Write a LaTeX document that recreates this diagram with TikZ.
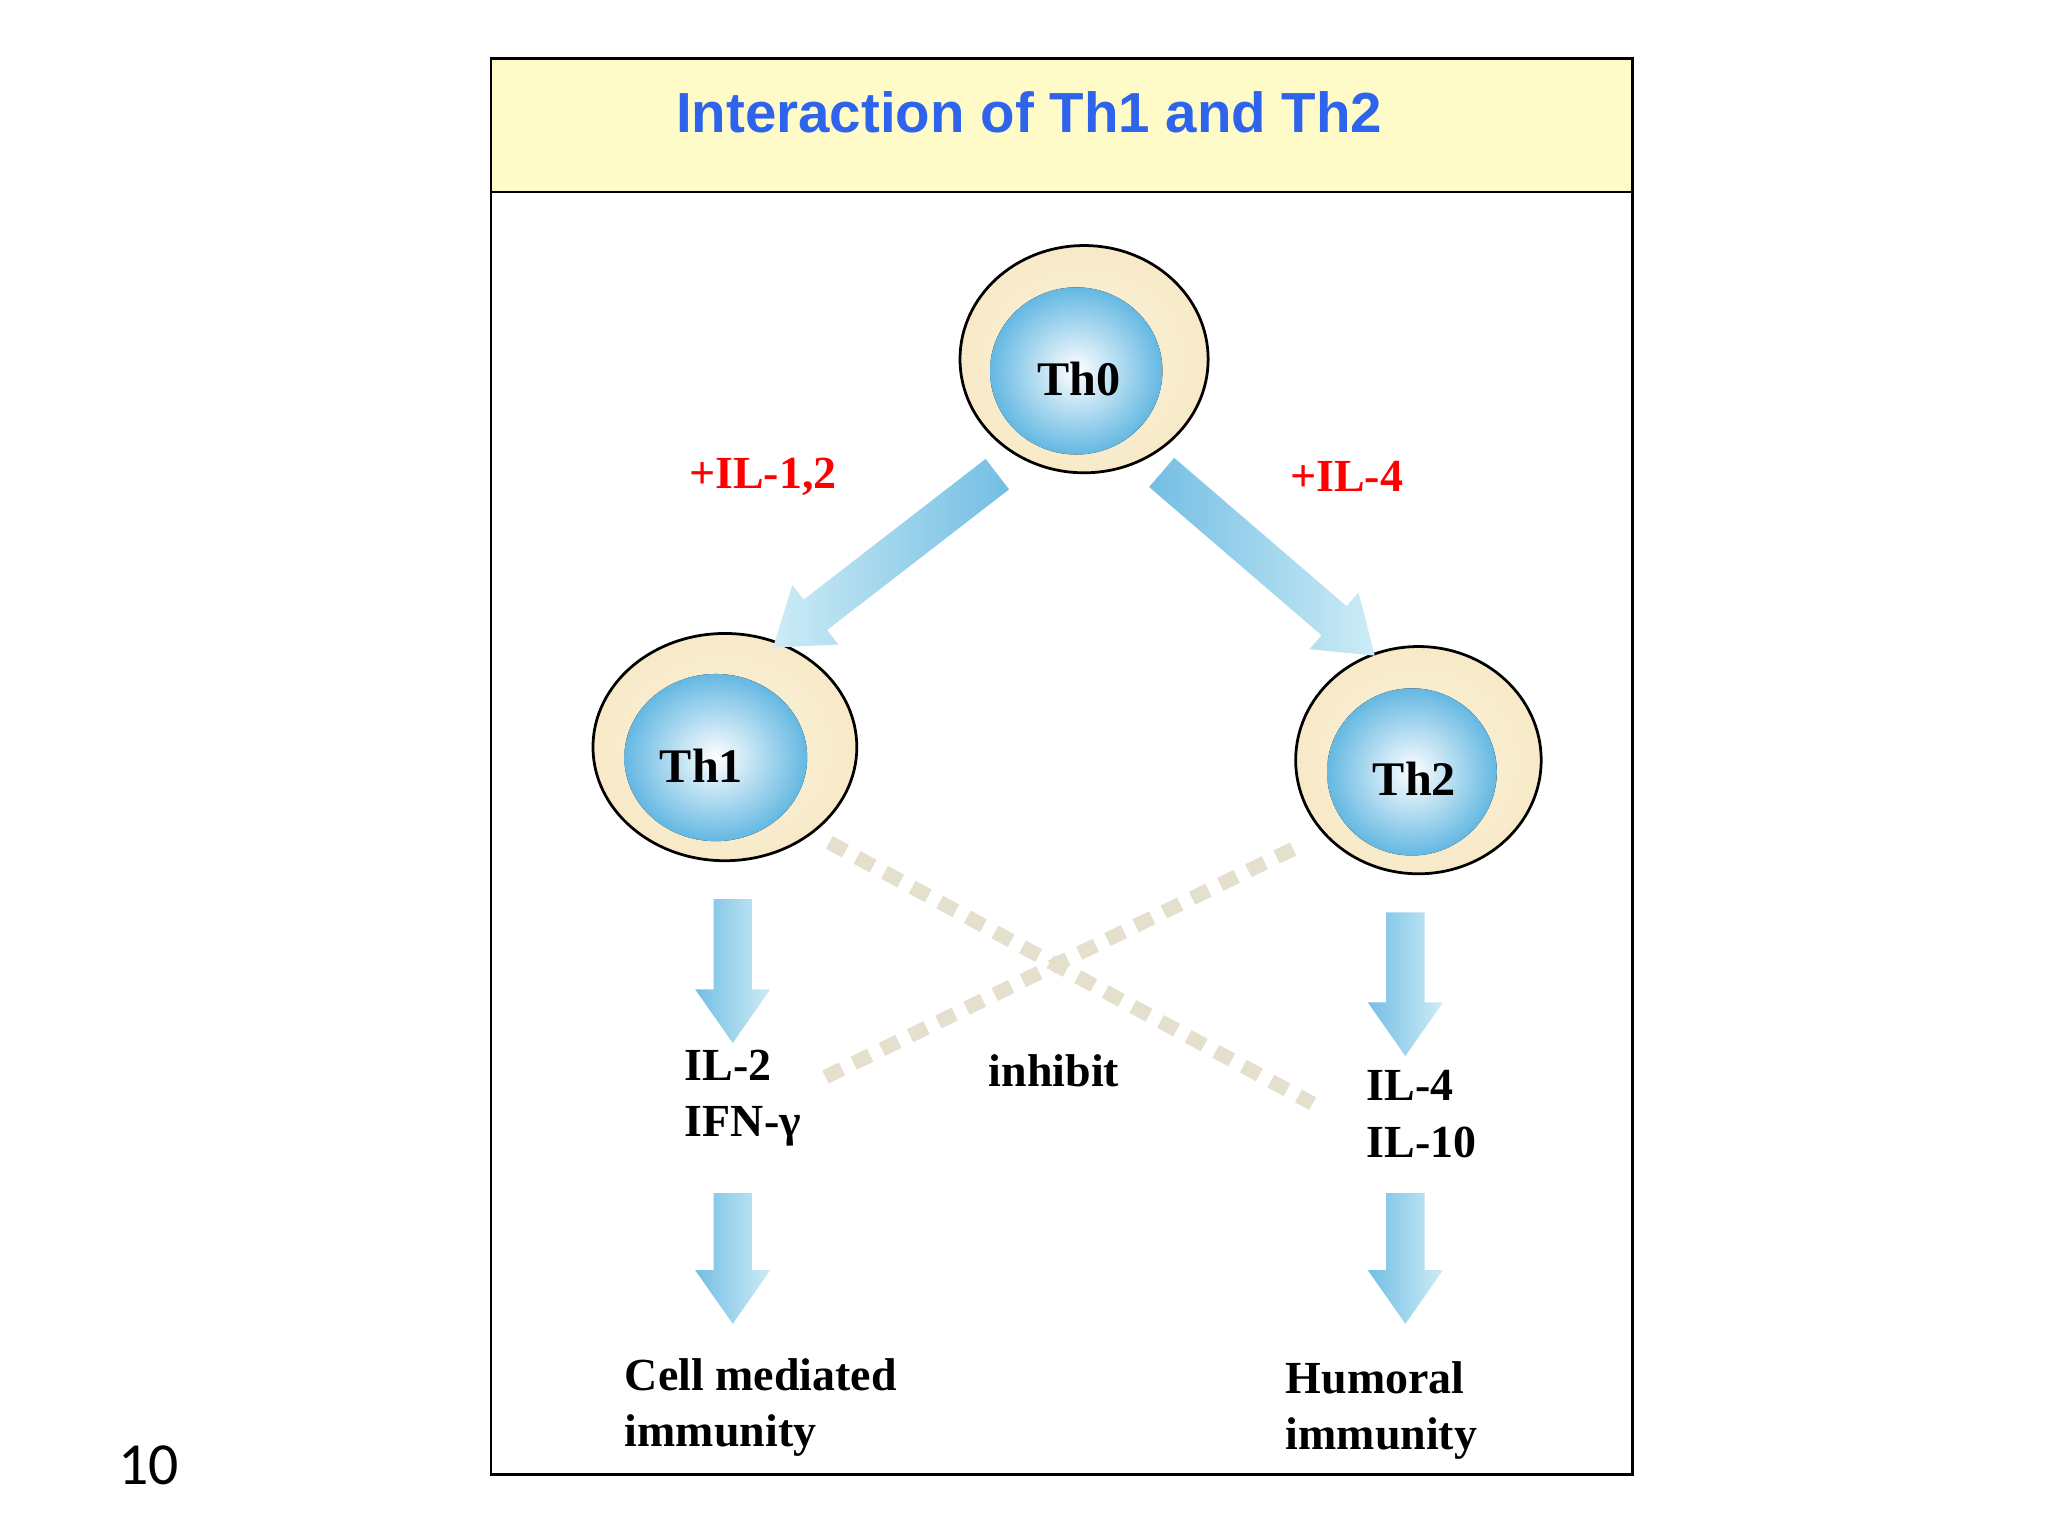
\documentclass[tikz,border=0pt]{standalone}
\usepackage{fontspec}
\setmainfont{Liberation Serif}
\newfontfamily\titlefont{Liberation Sans}
\newfontfamily\numfont{Carlito}
\usetikzlibrary{shapes.arrows,calc}
\definecolor{titleblue}{RGB}{45,100,235}
\definecolor{bandyellow}{RGB}{255,251,200}
\definecolor{arrdark}{RGB}{115,190,228}
\definecolor{arrlight}{RGB}{205,236,246}
\definecolor{cellout}{RGB}{248,234,200}
\definecolor{nucblue}{RGB}{100,184,226}
\definecolor{inhib}{RGB}{228,224,205}
\tikzset{
  fatarrow/.style={single arrow, draw=none, inner sep=0.14cm, minimum width=0.56cm,
    single arrow head extend=0.14cm, single arrow tip angle=70, single arrow head indent=0pt,
    left color=arrdark, right color=arrlight},
  cellbody/.style={draw=black, line width=0.6pt, inner color=white!40!cellout, outer color=cellout},
  nucleus/.style={inner color=white, outer color=nucblue},
  celltext/.style={font=\fontsize{10.5}{12}\selectfont\bfseries},
  lbl/.style={font=\fontsize{10}{12.2}\selectfont\bfseries, align=left},
  redlbl/.style={font=\fontsize{10}{12}\selectfont\bfseries, text=red},
  inhibline/.style={draw=inhib, line width=0.11cm, dash pattern=on 0.14cm off 0.1cm}
}
\begin{document}
\begin{tikzpicture}[x=0.01cm,y=-0.01cm]
\useasboundingbox (0,0) rectangle (1568,1176);
\fill[white] (0,0) rectangle (1568,1176);
% frame
\fill[bandyellow] (376,45) rectangle (1250,147);
\draw[line width=0.6pt] (376,45) rectangle (1250,147);
\draw[line width=0.6pt] (376,45) rectangle (1250,1129);
\node (title) at (788,86) {\titlefont\fontsize{12.3}{14}\selectfont\bfseries\color{titleblue}Interaction of Th1 and Th2};
% inhibit lines
\coordinate (i1a) at (635,645); \coordinate (i1b) at (1005,845);
\coordinate (i2a) at (990,650); \coordinate (i2b) at (625,828);
\draw[inhibline] (i1a) -- (i1b);
\draw[inhibline] (i2a) -- (i2b);
% cells
\fill[cellbody] (830,275) ellipse [x radius=95, y radius=87];
\fill[nucleus] (824,284) ellipse [x radius=66, y radius=64];
\node[celltext] (th0) at (826,290) {Th0};
\fill[cellbody] (555,572) ellipse [x radius=101, y radius=87];
\fill[nucleus] (548,580) ellipse [x radius=70, y radius=64];
\node[celltext] (th1) at (537,586) {Th1};
\fill[cellbody] (1086,582) ellipse [x radius=94, y radius=87];
\fill[nucleus] (1081,591) ellipse [x radius=65, y radius=64];
\node[celltext] (th2) at (1083,596) {Th2};
% arrows
\node[fatarrow, left color=arrlight, right color=arrdark, minimum height=2.17cm, rotate=217.7] (a1) at (686,423) {};
\node[fatarrow, minimum height=2.15cm, rotate=-40.7] (a2) at (963,425) {};
\node[fatarrow, minimum height=1.1cm, rotate=-90] (a3) at (561,733) {};
\node[fatarrow, minimum height=1.1cm, rotate=-90] (a4) at (1076,743) {};
\node[fatarrow, minimum height=1.0cm, rotate=-90] (a5) at (561,953) {};
\node[fatarrow, minimum height=1.0cm, rotate=-90] (a6) at (1076,953) {};
% labels
\node[redlbl] (l1) at (584,365) {+IL-1,2};
\node[redlbl] (l2) at (1031,365) {+IL-4};
\node[lbl, anchor=west] (c1) at (512,841) {IL-2\\IFN-γ};
\node[lbl] (inh) at (807,820) {inhibit};
\node[lbl, anchor=west] (c2) at (1034,853) {IL-4\\IL-10};
\node[lbl, anchor=west] (r1) at (466,1078) {Cell mediated\\immunity};
\node[lbl, anchor=west] (r2) at (972,1080) {Humoral\\immunity};
\node (pg) at (114,1122) {\numfont\fontsize{13}{15}\selectfont 10};
\end{tikzpicture}
\end{document}
